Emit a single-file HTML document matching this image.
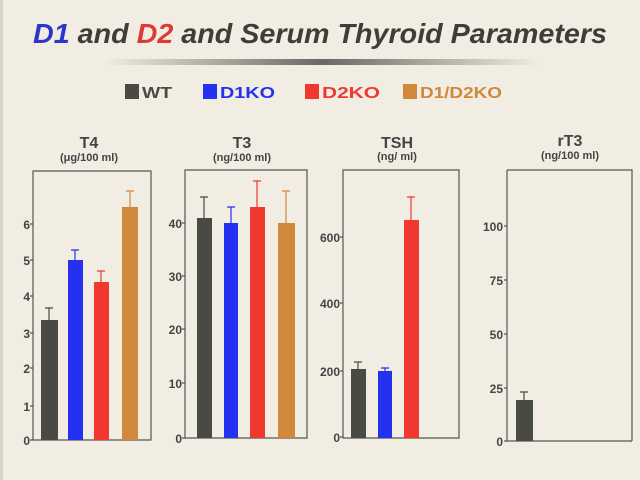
<!DOCTYPE html>
<html><head><style>
html,body{margin:0;padding:0;background:#f1ede3;}
svg{display:block;font-family:"Liberation Sans",sans-serif;}
</style></head><body>
<svg width="640" height="480" viewBox="0 0 640 480">
<defs>
<linearGradient id="g" x1="0" x2="1">
<stop offset="0" stop-color="#f1ede3"/><stop offset="0.5" stop-color="#6a6864"/><stop offset="1" stop-color="#f1ede3"/>
</linearGradient>
</defs>
<rect width="640" height="480" fill="#f1ede3"/>
<rect x="0" y="0" width="3" height="480" fill="#d8d4cc"/>
<text x="320" y="43" text-anchor="middle" font-size="28" font-weight="bold" font-style="italic" fill="#3e3d3a" textLength="574" lengthAdjust="spacingAndGlyphs"><tspan fill="#2c34cc">D1</tspan> and <tspan fill="#e03a36">D2</tspan> and Serum Thyroid Parameters</text>
<rect x="105" y="59" width="435" height="6" fill="url(#g)"/>
<g font-size="16" font-weight="bold">
<rect x="125" y="84" width="14" height="15" fill="#4a4a44"/><text x="142" y="98" fill="#4a4a44" textLength="30" lengthAdjust="spacingAndGlyphs">WT</text>
<rect x="203" y="84" width="14" height="15" fill="#2431ee"/><text x="220" y="98" fill="#2431ee" textLength="55" lengthAdjust="spacingAndGlyphs">D1KO</text>
<rect x="305" y="84" width="14" height="15" fill="#f03830"/><text x="322" y="98" fill="#f03830" textLength="58" lengthAdjust="spacingAndGlyphs">D2KO</text>
<rect x="403" y="84" width="14" height="15" fill="#d0883a"/><text x="420" y="98" fill="#d0883a" textLength="82" lengthAdjust="spacingAndGlyphs">D1/D2KO</text>
</g>
<g fill="#444" text-anchor="middle">
<text x="89" y="148" font-size="16" font-weight="bold">T4</text><text x="89" y="161" font-size="11" font-weight="bold">(μg/100 ml)</text>
<text x="242" y="148" font-size="16" font-weight="bold">T3</text><text x="242" y="161" font-size="11" font-weight="bold">(ng/100 ml)</text>
<text x="397" y="148" font-size="16" font-weight="bold">TSH</text><text x="397" y="160" font-size="11" font-weight="bold">(ng/ ml)</text>
<text x="570" y="146" font-size="16" font-weight="bold">rT3</text><text x="570" y="159" font-size="11" font-weight="bold">(ng/100 ml)</text>
</g>
<g fill="none" stroke="#555" stroke-width="1.2">
<path d="M33 171 H151 V440 H33 Z"/>
<path d="M185 170 H307 V438 H185 Z"/>
<path d="M343 170 H459 V438 H343 Z"/>
<path d="M507 170 H632 V441 M507 441 H632 M507 170 V441"/>
<path d="M30 440H33M30 406H33M30 368H33M30 333H33M30 296H33M30 260H33M30 224H33"/>
<path d="M182 438H185M182 383H185M182 329H185M182 276H185M182 223H185"/>
<path d="M340 437H343M340 371H343M340 303H343M340 237H343"/>
<path d="M504 441H507M504 388H507M504 334H507M504 280H507M504 226H507"/>
</g>
<g font-size="12" font-weight="bold" fill="#444" text-anchor="end">
<text x="30" y="445">0</text><text x="30" y="411">1</text><text x="30" y="373">2</text><text x="30" y="338">3</text><text x="30" y="301">4</text><text x="30" y="265">5</text><text x="30" y="229">6</text>
<text x="182" y="443">0</text><text x="182" y="388">10</text><text x="182" y="334">20</text><text x="182" y="281">30</text><text x="182" y="228">40</text>
<text x="340" y="442">0</text><text x="340" y="376">200</text><text x="340" y="308">400</text><text x="340" y="242">600</text>
<text x="503" y="446">0</text><text x="503" y="393">25</text><text x="503" y="339">50</text><text x="503" y="285">75</text><text x="503" y="231">100</text>
</g>
<g stroke-width="1.2">
<g stroke="#4a4a44"><path d="M49 320V308M45 308H53"/><path d="M204 218V197M200 197H208"/><path d="M358 369V362M354 362H362"/><path d="M524 400V392M520 392H528"/></g>
<g stroke="#2431ee"><path d="M75 260V250M71 250H79"/><path d="M231 223V207M227 207H235"/><path d="M385 371V368M381 368H389"/></g>
<g stroke="#f03830"><path d="M101 282V271M97 271H105"/><path d="M257 207V181M253 181H261"/><path d="M411 220V197M407 197H415"/></g>
<g stroke="#d0883a"><path d="M130 207V191M126 191H134"/><path d="M286 223V191M282 191H290"/></g>
</g>
<g fill="#4a4a44"><rect x="41" y="320" width="17" height="120"/><rect x="197" y="218" width="15" height="220"/><rect x="351" y="369" width="15" height="69"/><rect x="516" y="400" width="17" height="41"/></g>
<g fill="#2431ee"><rect x="68" y="260" width="15" height="180"/><rect x="224" y="223" width="14" height="215"/><rect x="378" y="371" width="14" height="67"/></g>
<g fill="#f03830"><rect x="94" y="282" width="15" height="158"/><rect x="250" y="207" width="15" height="231"/><rect x="404" y="220" width="15" height="218"/></g>
<g fill="#d0883a"><rect x="122" y="207" width="16" height="233"/><rect x="278" y="223" width="17" height="215"/></g>
</svg>
</body></html>
